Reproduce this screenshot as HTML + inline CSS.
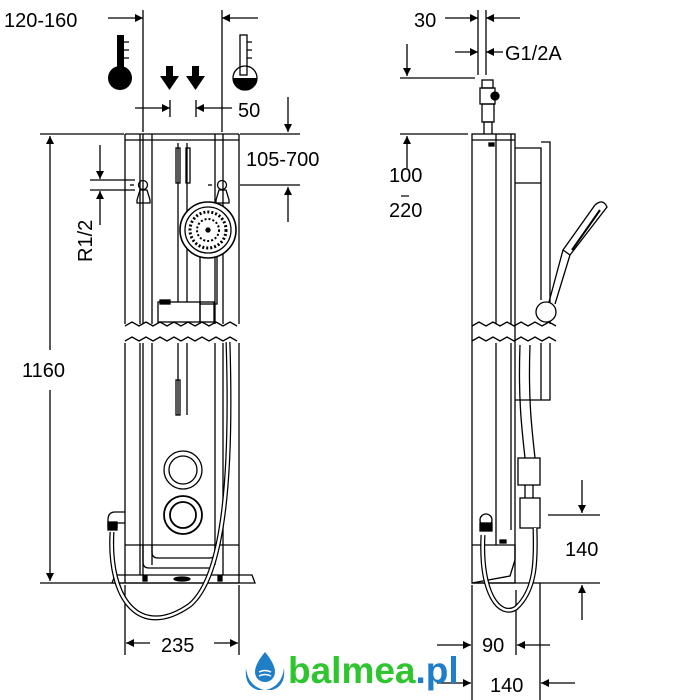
<!DOCTYPE html>
<html><head><meta charset="utf-8"><style>
html,body{margin:0;padding:0;background:#fff;width:700px;height:700px;overflow:hidden}
text{font-family:"Liberation Sans",sans-serif;fill:#000}
</style></head><body>
<svg width="700" height="700" viewBox="0 0 700 700" xmlns="http://www.w3.org/2000/svg">
<defs>
<marker id="a" viewBox="0 0 10 10" refX="10" refY="5" markerWidth="12" markerHeight="8" orient="auto" markerUnits="userSpaceOnUse"><path d="M0,0L10,5L0,10z" fill="#000"/></marker>
</defs>
<g stroke="#000" stroke-width="1.3" fill="none">
<line x1="143" y1="10" x2="143" y2="132"/><line x1="222" y1="10" x2="222" y2="132"/>
<line x1="108" y1="18" x2="143" y2="18" marker-end="url(#a)"/>
<line x1="258" y1="18" x2="222" y2="18" marker-end="url(#a)"/>
<line x1="135" y1="108" x2="170" y2="108" marker-end="url(#a)"/>
<line x1="232" y1="108" x2="196" y2="108" marker-end="url(#a)"/>
<line x1="170" y1="100" x2="170" y2="117"/><line x1="196" y1="100" x2="196" y2="117"/>
<line x1="288" y1="97" x2="288" y2="132" marker-end="url(#a)"/>
<line x1="288" y1="222" x2="288" y2="187" marker-end="url(#a)"/>
<line x1="240" y1="134" x2="300" y2="134"/><line x1="240" y1="185" x2="300" y2="185"/>
<line x1="40" y1="134" x2="124" y2="134"/><line x1="40" y1="583" x2="124" y2="583"/>
<line x1="50" y1="350" x2="50" y2="136" marker-end="url(#a)"/>
<line x1="50" y1="390" x2="50" y2="581" marker-end="url(#a)"/>
<line x1="90" y1="180" x2="135" y2="180"/><line x1="90" y1="190" x2="135" y2="190"/>
<line x1="100" y1="145" x2="100" y2="179" marker-end="url(#a)"/>
<line x1="100" y1="225" x2="100" y2="191" marker-end="url(#a)"/>
<line x1="125" y1="585" x2="125" y2="655"/><line x1="239" y1="585" x2="239" y2="655"/>
<line x1="150" y1="643" x2="126" y2="643" marker-end="url(#a)"/>
<line x1="214" y1="643" x2="238" y2="643" marker-end="url(#a)"/>

<path d="M125,134V324M239,134V324M125,343V583M239,343V583"/>
<line x1="125" y1="134" x2="239" y2="134"/><line x1="125" y1="140" x2="239" y2="140"/>
<path d="M140,134V324M143,134V324M152,134V324M215,134V324M223,134V324"/>
<path d="M140,343V575M143,343V575M152,343V565M215,343V565M223,343V575"/>
<path d="M125,326 l7,-4 l7,4 l7,-4 l7,4 l7,-4 l7,4 l7,-4 l7,4 l7,-4 l7,4 l7,-4 l7,4 l7,-4 l7,4 l7,-4 l7,4"/>
<path d="M125,341 l7,-4 l7,4 l7,-4 l7,4 l7,-4 l7,4 l7,-4 l7,4 l7,-4 l7,4 l7,-4 l7,4 l7,-4 l7,4 l7,-4 l7,4"/>
<path d="M178,143V302M187,143V302"/>
<rect x="176" y="148" width="4" height="35"/><rect x="186" y="148" width="4" height="35"/>
<path d="M178,343V415M187,343V415"/><rect x="176" y="380" width="4" height="35"/>
<circle cx="143" cy="185" r="4.5"/><path d="M137,200l3,-10h7l3,10v3h-13z"/>
<circle cx="222" cy="185" r="4.5"/><path d="M216,200l3,-10h7l3,10v3h-13z"/>
<line x1="130" y1="185" x2="137" y2="185" stroke-dasharray="4 3"/><line x1="208" y1="185" x2="215" y2="185" stroke-dasharray="4 3"/>
<rect x="200" y="250" width="17" height="54"/>
<circle cx="208" cy="230" r="28" fill="#fff" stroke-width="1.6"/>
<circle cx="208" cy="230" r="23"/>
<circle cx="208" cy="230" r="18" stroke-dasharray="2 2" stroke-width="3"/>
<circle cx="208" cy="230" r="11" stroke-dasharray="2 2" stroke-width="2"/>
<circle cx="208" cy="230" r="2" fill="#000"/>
<rect x="158" y="302" width="42" height="20"/><rect x="200" y="302" width="14" height="20"/>
<rect x="160" y="300" width="10" height="4" fill="#000"/>
<circle cx="183" cy="470" r="19"/><circle cx="183" cy="470" r="14"/>
<circle cx="183" cy="515" r="19" stroke-width="1.8"/><circle cx="183" cy="515" r="13" stroke-width="1.8"/>
<line x1="125" y1="545" x2="239" y2="545"/>
<path d="M152,545V552q0,6 6,6h52q5,0 5,-6V545"/>
<path d="M143,545V562q0,6 6,6h65"/>
<path d="M112,583l3,-8h137l3,8z"/>
<path d="M125,583h114"/>
<ellipse cx="182" cy="579" rx="8" ry="2" fill="#000"/>
<rect x="143" y="576" width="4" height="5" fill="#000"/><rect x="218" y="576" width="4" height="5" fill="#000"/>
<path d="M112,532 C108,600 140,640 190,605 C225,575 232,470 228,342" stroke-width="5"/>
<path d="M112,532 C108,600 140,640 190,605 C225,575 232,470 228,342" stroke="#fff" stroke-width="2.5"/>
<path d="M125,512h-10q-7,0 -7,8v7h9v-4h8"/>
<rect x="108" y="522" width="9" height="8" fill="#000"/>

<line x1="478" y1="10" x2="478" y2="75"/><line x1="486" y1="10" x2="486" y2="75"/>
<line x1="445" y1="18" x2="478" y2="18" marker-end="url(#a)"/>
<line x1="520" y1="18" x2="486" y2="18" marker-end="url(#a)"/>
<line x1="455" y1="52" x2="478" y2="52" marker-end="url(#a)"/>
<line x1="503" y1="52" x2="486" y2="52" marker-end="url(#a)"/>
<line x1="407" y1="44" x2="407" y2="76" marker-end="url(#a)"/>
<line x1="400" y1="78" x2="475" y2="78"/>
<line x1="400" y1="134" x2="468" y2="134"/>
<line x1="407" y1="168" x2="407" y2="136" marker-end="url(#a)"/>
<line x1="548" y1="515" x2="600" y2="515"/><line x1="472" y1="583" x2="600" y2="583"/>
<line x1="582" y1="480" x2="582" y2="513" marker-end="url(#a)"/>
<line x1="582" y1="620" x2="582" y2="585" marker-end="url(#a)"/>
<line x1="472" y1="585" x2="472" y2="700"/><line x1="516" y1="590" x2="516" y2="655"/><line x1="540" y1="583" x2="540" y2="700"/>
<line x1="437" y1="645" x2="471" y2="645" marker-end="url(#a)"/>
<line x1="550" y1="645" x2="517" y2="645" marker-end="url(#a)"/>
<line x1="437" y1="683" x2="471" y2="683" marker-end="url(#a)"/>
<line x1="575" y1="683" x2="541" y2="683" marker-end="url(#a)"/>

<rect x="472" y="134" width="43" height="449"/>
<path d="M496,134V324M511,134V324M496,343V545M511,343V530"/>
<path d="M472,140h43"/>
<rect x="489" y="143" width="5" height="3" fill="#000"/>
<path d="M515,148H541V183H515M541,142h9V324M541,148V300"/>
<path d="M541,343V400H515M550,343V400H541"/>
<path d="M472,326 l7,-4 l7,4 l7,-4 l7,4 l7,-4 l7,4 l7,-4 l7,4 l7,-4 l7,4 l7,-4 l7,4"/>
<path d="M472,341 l7,-4 l7,4 l7,-4 l7,4 l7,-4 l7,4 l7,-4 l7,4 l7,-4 l7,4 l7,-4 l7,4"/>
<path d="M484,134V122h8V134"/><rect x="482" y="104" width="12" height="18"/><rect x="480" y="88" width="15" height="16"/><rect x="482" y="80" width="11" height="8"/>
<circle cx="495" cy="96" r="4" fill="#000"/>
<circle cx="546" cy="312" r="10" fill="#fff"/>
<path d="M549,302L563,250l6,-4M555,304L570,255"/>
<path d="M563,250L595,205q8,-7 12,2L570,255z" fill="#fff"/>
<path d="M600,210L572,250" stroke-width="2"/>
<path d="M520,345C518,400 522,430 525,458M530,345C528,400 532,430 535,458"/>
<rect x="518" y="458" width="22" height="27"/><rect x="520" y="498" width="20" height="30"/>
<path d="M525,485V498M533,485V498"/>
<path d="M472,545H515V560L510,576L472,583"/>
<path d="M483,535C480,595 500,618 516,608C536,590 536,560 535,528" stroke-width="5"/>
<path d="M483,535C480,595 500,618 516,608C536,590 536,560 535,528" stroke="#fff" stroke-width="2.5"/>
<circle cx="486" cy="520" r="6"/><rect x="480" y="523" width="12" height="8" fill="#000"/>
<rect x="500" y="540" width="6" height="3" fill="#000"/>
</g>
<g fill="#000">
<rect x="117" y="35" width="7" height="40"/><circle cx="120" cy="78" r="12"/>
<rect x="240" y="35" width="7" height="40" fill="#fff" stroke="#000" stroke-width="1.3"/>
<path d="M233,78a12,12 0 0 0 24,0z"/>
<circle cx="245" cy="78" r="12" fill="none" stroke="#000" stroke-width="1.3"/>
<path d="M166,66h7v10h6l-9.5,14l-9.5,-14h6z"/>
<path d="M192,66h7v10h6l-9.5,14l-9.5,-14h6z"/>
</g>
<g stroke="#000" stroke-width="1.2"><path d="M124,42h5M124,50h5M124,58h5M247,42h5M247,50h5M247,58h5"/></g>
<g font-size="20">
<text x="4" y="27">120-160</text>
<text x="238" y="117">50</text>
<text x="246" y="166">105-700</text>
<text x="22" y="377">1160</text>
<text x="92" y="262" transform="rotate(-90 92 262)">R1/2</text>
<text x="161" y="652">235</text>
<text x="414" y="27">30</text>
<text x="505" y="60">G1/2A</text>
<text x="389" y="182">100</text>
<text x="389" y="217">220</text>
<text x="565" y="556">140</text>
<text x="482" y="652">90</text>
<text x="490" y="692">140</text>
</g>
<line x1="401" y1="196" x2="409" y2="196" stroke="#000" stroke-width="1.2"/>
<g>
<path d="M265,652q-10,12 -10,20a10,10 0 0 0 20,0q0,-8 -10,-20z" fill="#1e7fc8"/>
<path d="M246,668q2,18 18,22h-6q-14,-4 -12,-22zM284,668q-2,18 -18,22h6q14,-4 12,-22z" fill="#1e7fc8"/>
<path d="M259,672q6,-3 12,0M259,676q6,-3 12,0" stroke="#fff" stroke-width="1.5" fill="none"/>
<text x="288" y="683" font-size="37" font-weight="bold" style="fill:#2fc52f">balmea<tspan style="fill:#1e7fc8">.pl</tspan></text>
</g>
</svg>
</body></html>
